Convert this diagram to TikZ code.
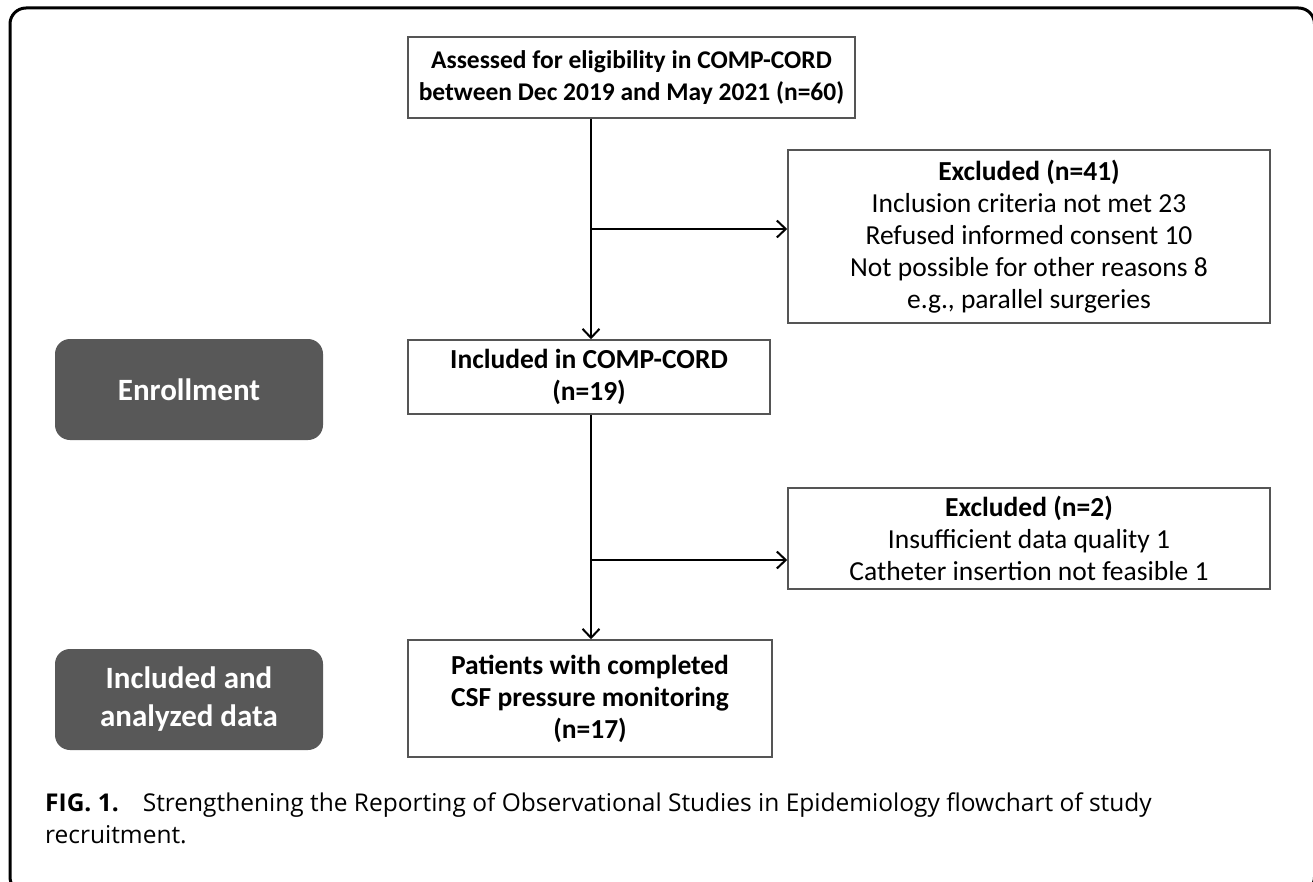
\documentclass[tikz,border=0pt]{standalone}
\usepackage{fontspec}
\setmainfont{Carlito}
\newfontfamily\capfont{Open Sans}
\usetikzlibrary{arrows.meta}
\definecolor{boxgray}{HTML}{555555}
\definecolor{darkfill}{HTML}{585858}
\begin{document}
\begin{tikzpicture}[x=1pt,y=-1pt,
  box/.style={draw=boxgray, line width=1.5pt, fill=white, align=center, inner sep=0pt, font=\fontsize{27.5}{32}\selectfont},
  boldbox/.style={box, font=\fontsize{27.5}{32}\selectfont\bfseries},
  phase/.style={fill=darkfill, rounded corners=15pt, align=center, inner sep=0pt, text=white, font=\fontsize{31}{38}\selectfont\bfseries, minimum width=268pt, minimum height=101pt},
  arr/.style={line width=2pt, -{Straight Barb[length=9pt,width=17pt,line width=2pt]}},
  captext/.style={anchor=base west, inner sep=0pt, font=\capfont\fontsize{24.5}{32}\selectfont}
]
\useasboundingbox (0,0) rectangle (1313,882);
\begin{scope}
\clip (0,0) rectangle (1313,882);
\draw[line width=3pt, rounded corners=16pt] (10,8) rectangle (1314.5,893);
\end{scope}

\node[boldbox, font=\fontsize{25.5}{32}\selectfont\bfseries, minimum width=447pt, minimum height=81pt] (top) at (631.5,77.5)
  {Assessed for eligibility in COMP-CORD\\between Dec 2019 and May 2021 (n=60)};
\node[box, minimum width=482pt, minimum height=173pt] (excl1) at (1029,236.5)
  {\textbf{Excluded (n=41)}\\Inclusion criteria not met 23\\Refused informed consent 10\\Not possible for other reasons 8\\e.g., parallel surgeries};
\node[boldbox, minimum width=362pt, minimum height=74pt] (incl) at (589,377)
  {Included in COMP-CORD\\(n=19)};
\node[box, minimum width=482pt, minimum height=101pt] (excl2) at (1029,538.5)
  {\textbf{Excluded (n=2)}\\Insufficient data quality 1\\Catheter insertion not feasible 1};
\node[boldbox, minimum width=364pt, minimum height=117pt] (pat) at (590,698.5)
  {Patients with completed\\CSF pressure monitoring\\(n=17)};

\node[phase] (enroll) at (189,389.5) {Enrollment};
\node[phase] (anal) at (189,699.5) {Included and\\analyzed data};

\coordinate (spine) at (591,0);
\coordinate (b1) at (591,229);
\coordinate (b2) at (591,560);
\draw[arr] (top.south -| spine) -- (incl.north -| spine);
\draw[arr] (b1) -- (excl1.west |- b1);
\draw[arr] (incl.south -| spine) -- (pat.north -| spine);
\draw[arr] (b2) -- (excl2.west |- b2);

\node[captext] (cap1) at (45,811) {\textbf{FIG. 1.}\hspace{24pt}Strengthening the Reporting of Observational Studies in Epidemiology flowchart of study};
\node[captext] (cap2) at (45,843) {recruitment.};
\end{tikzpicture}
\end{document}
